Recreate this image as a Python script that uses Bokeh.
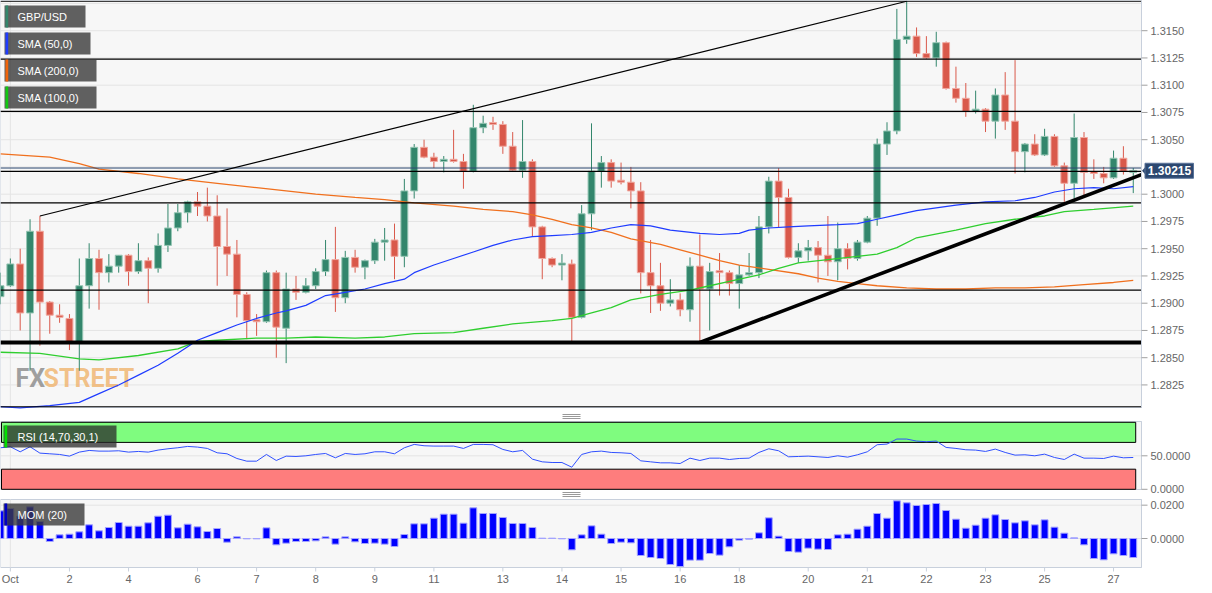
from bokeh.plotting import figure
from bokeh.models import Range1d, ColumnDataSource
from bokeh.layouts import column
from bokeh.embed import file_html
from bokeh.resources import INLINE
from bokeh.core.properties import value

# ---------------- data ----------------
open_ = [1.2906, 1.2916, 1.2936, 1.2891, 1.2966, 1.2901, 1.2889, 1.2886, 1.2864, 1.2916,
         1.2941, 1.2928, 1.2934, 1.2944, 1.2929, 1.2939, 1.2932, 1.2953, 1.2969, 1.2983,
         1.2993, 1.2989, 1.2980, 1.2952, 1.2945, 1.2908, 1.2884, 1.2883, 1.2928, 1.2877,
         1.2913, 1.2910, 1.2916, 1.2929, 1.2940, 1.2905, 1.2942, 1.2933, 1.2939, 1.2956,
         1.2958, 1.2943, 1.3003, 1.3043, 1.3034, 1.3030, 1.3032, 1.3030, 1.3021, 1.3061,
         1.3065, 1.3064, 1.3044, 1.3022, 1.3030, 1.2970, 1.2941, 1.2935, 1.2936, 1.2887,
         1.2982, 1.3021, 1.3029, 1.3012, 1.3011, 1.3003, 1.2928, 1.2916, 1.2900, 1.2903,
         1.2894, 1.2934, 1.2913, 1.2929, 1.2928, 1.2918, 1.2926, 1.2928, 1.2970, 1.3012,
         1.2997, 1.2942, 1.2948, 1.2951, 1.2944, 1.2938, 1.2950, 1.2941, 1.2956, 1.2978,
         1.3046, 1.3058, 1.3142, 1.3145, 1.3129, 1.3125, 1.3139, 1.3097, 1.3088, 1.3076,
         1.3078, 1.3067, 1.3091, 1.3067, 1.3039, 1.3046, 1.3036, 1.3053, 1.3026, 1.3010,
         1.3052, 1.3020, 1.3019, 1.3015, 1.3033, 1.3020]
high = [1.2928, 1.2941, 1.2950, 1.2977, 1.2980, 1.2902, 1.2899, 1.2890, 1.2941, 1.2955,
        1.2949, 1.2945, 1.2944, 1.2945, 1.2955, 1.2942, 1.2964, 1.2991, 1.2991, 1.2994,
        1.3002, 1.3006, 1.2999, 1.2987, 1.2958, 1.2910, 1.2890, 1.2930, 1.2930, 1.2928,
        1.2925, 1.2923, 1.2932, 1.2958, 1.2970, 1.2948, 1.2949, 1.2940, 1.2959, 1.2969,
        1.2973, 1.3014, 1.3046, 1.3050, 1.3038, 1.3035, 1.3059, 1.3037, 1.3082, 1.3072,
        1.3071, 1.3067, 1.3057, 1.3068, 1.3032, 1.2971, 1.2942, 1.2945, 1.2940, 1.2990,
        1.3065, 1.3035, 1.3032, 1.3029, 1.3025, 1.3011, 1.2958, 1.2937, 1.2922, 1.2909,
        1.2942, 1.2963, 1.2937, 1.2946, 1.2930, 1.2935, 1.2946, 1.2980, 1.3016, 1.3024,
        1.3005, 1.2955, 1.2958, 1.2957, 1.2980, 1.2974, 1.2955, 1.2958, 1.2980, 1.3051,
        1.3066, 1.3170, 1.3177, 1.3153, 1.3145, 1.3149, 1.3140, 1.3117, 1.3102, 1.3095,
        1.3079, 1.3097, 1.3112, 1.3123, 1.3047, 1.3055, 1.3060, 1.3055, 1.3029, 1.3074,
        1.3057, 1.3032, 1.3025, 1.3040, 1.3044, 1.3024]
low = [1.2899, 1.2915, 1.2875, 1.2838, 1.2861, 1.2872, 1.2882, 1.2857, 1.2838, 1.2895,
       1.2894, 1.2919, 1.2928, 1.2916, 1.2927, 1.2900, 1.2928, 1.2947, 1.2966, 1.2974,
       1.2980, 1.2975, 1.2916, 1.2925, 1.2887, 1.2867, 1.2870, 1.2882, 1.2850, 1.2845,
       1.2903, 1.2909, 1.2913, 1.2925, 1.2892, 1.2900, 1.2928, 1.2922, 1.2936, 1.2939,
       1.2922, 1.2933, 1.2996, 1.3033, 1.3024, 1.3020, 1.3029, 1.3005, 1.3020, 1.3056,
       1.3059, 1.3037, 1.3021, 1.3015, 1.2961, 1.2922, 1.2933, 1.2921, 1.2864, 1.2886,
       1.2967, 1.3006, 1.3006, 1.3009, 1.2987, 1.2909, 1.2891, 1.2893, 1.2897, 1.2888,
       1.2883, 1.2864, 1.2875, 1.2907, 1.2907, 1.2895, 1.2925, 1.2923, 1.2964, 1.2969,
       1.2941, 1.2937, 1.2939, 1.2919, 1.2925, 1.2921, 1.2931, 1.2939, 1.2955, 1.2971,
       1.3036, 1.3055, 1.3138, 1.3126, 1.3124, 1.3117, 1.3096, 1.3084, 1.3071, 1.3074,
       1.3057, 1.3051, 1.3059, 1.3019, 1.3020, 1.3035, 1.3035, 1.3025, 1.2993, 1.2996,
       1.2999, 1.3014, 1.3010, 1.3014, 1.3018, 1.3001]
close = [1.2916, 1.2936, 1.2891, 1.2966, 1.2901, 1.2889, 1.2887, 1.2864, 1.2916, 1.2941,
         1.2928, 1.2934, 1.2944, 1.2929, 1.2939, 1.2932, 1.2953, 1.2969, 1.2983, 1.2993,
         1.2989, 1.2980, 1.2952, 1.2945, 1.2908, 1.2884, 1.2883, 1.2928, 1.2878, 1.2913,
         1.2910, 1.2916, 1.2929, 1.2940, 1.2905, 1.2942, 1.2933, 1.2939, 1.2956, 1.2958,
         1.2943, 1.3003, 1.3043, 1.3034, 1.3030, 1.3032, 1.3030, 1.3021, 1.3061, 1.3065,
         1.3064, 1.3044, 1.3022, 1.3030, 1.2970, 1.2941, 1.2935, 1.2936, 1.2887, 1.2982,
         1.3021, 1.3029, 1.3012, 1.3011, 1.3003, 1.2928, 1.2916, 1.2900, 1.2903, 1.2894,
         1.2934, 1.2913, 1.2929, 1.2928, 1.2918, 1.2926, 1.2928, 1.2970, 1.3012, 1.2997,
         1.2942, 1.2948, 1.2951, 1.2944, 1.2938, 1.2950, 1.2941, 1.2956, 1.2978, 1.3046,
         1.3058, 1.3142, 1.3145, 1.3129, 1.3125, 1.3139, 1.3097, 1.3088, 1.3076, 1.3078,
         1.3067, 1.3091, 1.3067, 1.3039, 1.3046, 1.3036, 1.3053, 1.3026, 1.3010, 1.3052,
         1.3020, 1.3019, 1.3015, 1.3033, 1.3021, 1.30215]

sma50_i = [0, 2, 5, 8, 10, 12, 14, 16, 18, 20, 22, 24, 26, 28, 29, 31, 33, 35, 37, 39,
           41, 42, 44, 46, 48, 50, 52, 54, 56, 58, 60, 62, 64, 66, 68, 71, 73, 75, 76, 78,
           80, 82, 85, 87, 89, 91, 93, 97, 100, 103, 105, 107, 109, 111, 113, 115]
sma50_v = [1.2805, 1.2804, 1.2806, 1.2809, 1.2817, 1.2825, 1.2834, 1.2843, 1.2854, 1.2866,
           1.2873, 1.2880, 1.2886, 1.2891, 1.2893, 1.2898, 1.2907, 1.2910, 1.2913, 1.2918,
           1.2922, 1.2928, 1.2935, 1.2941, 1.2947, 1.2953, 1.2958, 1.2961, 1.2962, 1.2963,
           1.2965, 1.2969, 1.2972, 1.2971, 1.2967, 1.2964, 1.2963, 1.2964, 1.2967, 1.2969,
           1.2970, 1.2971, 1.2972, 1.2973, 1.2977, 1.2981, 1.2985, 1.2990, 1.2993, 1.2994,
           1.2997, 1.3002, 1.3005, 1.3006, 1.3005, 1.3007]
sma200_i = [0, 5, 8, 10, 14, 18, 22, 26, 29, 32, 36, 39, 42, 46, 49, 52, 54, 56, 58, 60,
            62, 64, 67, 69, 71, 73, 75, 78, 81, 83, 85, 87, 89, 92, 95, 98, 101, 104, 107,
            110, 113, 115]
sma200_v = [1.3037, 1.3034, 1.3028, 1.3023, 1.3019, 1.3014, 1.3010, 1.3006, 1.3003, 1.3000,
            1.2997, 1.2995, 1.2992, 1.2989, 1.2986, 1.2984, 1.2981, 1.2977, 1.2972, 1.2969,
            1.2965, 1.2959, 1.2954, 1.2949, 1.2944, 1.2939, 1.2935, 1.2931, 1.2927, 1.2923,
            1.2920, 1.2918, 1.2916, 1.2914, 1.2913, 1.2913, 1.2914, 1.2914, 1.2915, 1.2917,
            1.2919, 1.2921]
sma100_i = [0, 4, 8, 10, 14, 18, 20, 22, 26, 29, 32, 36, 39, 42, 46, 49, 52, 56, 58, 60,
            62, 64, 67, 70, 72, 74, 77, 79, 81, 84, 87, 89, 91, 93, 97, 100, 103, 106, 108,
            111, 115]
sma100_v = [1.2855, 1.2854, 1.2849, 1.2848, 1.2852, 1.2858, 1.2865, 1.2866, 1.2868, 1.2868,
            1.2869, 1.2868, 1.2869, 1.2872, 1.2873, 1.2877, 1.2881, 1.2884, 1.2886, 1.2891,
            1.2896, 1.2903, 1.2908, 1.2912, 1.2916, 1.2920, 1.2926, 1.2932, 1.2937, 1.2940,
            1.2943, 1.2945, 1.2951, 1.2960, 1.2967, 1.2973, 1.2977, 1.2980, 1.2984, 1.2986,
            1.2989]

rsi = [62, 63.5, 56, 63.5, 54, 53, 52, 49.5, 55.5, 58, 57, 57, 57.5, 55.5, 56.5, 55.5, 58.5,
       60.5, 62, 64, 63, 61, 54.5, 53, 46, 42, 42, 52, 43, 49.5, 49, 50, 52, 53.5, 47, 53.5,
       52, 53, 56, 56, 53, 62, 67, 65, 64.5, 64.5, 64.5, 61, 67, 67, 66.5, 59.5, 56, 58, 45,
       41, 40, 40, 33, 52, 56, 57, 55, 54.5, 53.5, 42.5, 41, 39.5, 39.5, 38.5, 46.5, 43, 46.5,
       46.5, 44.5, 46, 46.5, 55, 60.5, 57.5, 48.5, 49, 49.5, 48.5, 47.5, 50, 48, 51.5, 56,
       66.5, 67.5, 75, 75, 72, 71, 72, 62.5, 61, 59, 58.5, 56.5, 60, 55, 51, 51.5, 50, 52.5,
       47.5, 44.5, 52.5, 46.5, 46.5, 46, 49.5, 47, 47.5]
mom = [0.0166, 0.0180, 0.0135, 0.0190, 0.0102, -0.0018, 0.0022, 0.0026, 0.0040, 0.0082,
       0.0046, 0.0066, 0.0096, 0.0074, 0.0074, 0.0094, 0.0134, 0.0140, 0.0064, 0.0086,
       0.0070, 0.0042, 0.0060, -0.0022, 0.0010, -0.0002, -0.0002, 0.0064, -0.0038, -0.0028,
       -0.0018, -0.0018, -0.0014, 0.0010, -0.0034, 0.0010, -0.0020, -0.0030, -0.0028, -0.0034,
       -0.0048, 0.0024, 0.0088, 0.0088, 0.0122, 0.0146, 0.0146, 0.0092, 0.0184, 0.0150,
       0.0150, 0.0126, 0.0090, 0.0090, 0.0066, 0.0002, 0.0002, -0.0002, -0.0068, 0.0022,
       0.0076, 0.0026, -0.0030, -0.0022, -0.0026, -0.0102, -0.0114, -0.0120, -0.0156, -0.0168,
       -0.0130, -0.0130, -0.0090, -0.0100, -0.0050, -0.0010, -0.0004, 0.0034, 0.0124, 0.0014,
       -0.0078, -0.0082, -0.0058, -0.0064, -0.0066, 0.0022, 0.0026, 0.0056, 0.0074, 0.0150,
       0.0122, 0.0226, 0.0214, 0.0198, 0.0204, 0.0210, 0.0168, 0.0116, 0.0062, 0.0080,
       0.0122, 0.0142, 0.0114, 0.0094, 0.0106, 0.0082, 0.0112, 0.0068, 0.0032, 0.0004,
       -0.0038, -0.0120, -0.0128, -0.0092, -0.0102, -0.0114]

levels = [1.3177, 1.3124, 1.3076, 1.3021, 1.2992, 1.2912, 1.2805]
support_level = 1.2864
price_line = 1.3024
wedge_i = [4, 92]
wedge_v = [1.2980, 1.3177]
trend_i = [71, 115.84]
trend_v = [1.2864, 1.3018]

price_ticks = [1.2825, 1.2850, 1.2875, 1.2900, 1.2925, 1.2950, 1.2975, 1.3000,
               1.3050, 1.3075, 1.3100, 1.3125, 1.3150]
price_grid = [1.2825, 1.2850, 1.2875, 1.2900, 1.2925, 1.2950, 1.2975, 1.3000, 1.3025,
              1.3050, 1.3075, 1.3100, 1.3125, 1.3150, 1.3175]
rsi_ticks = [0, 50]
rsi_overbought, rsi_oversold, rsi_max, rsi_min = 70, 30, 100, 0
mom_ticks = [0, 0.02]

xtick_idx = [1, 7, 13, 20, 26, 32, 38, 44, 51, 57, 63, 69, 75, 82, 88, 94, 100, 106, 113]
xtick_lab = ["Oct", "2", "4", "6", "7", "8", "9", "11", "13", "14", "15", "16", "18",
             "20", "21", "22", "23", "25", "27"]

# ---------------- geometry / style ----------------
n = len(close)
idx = list(range(n))
W = 1212
S = 9.85           # px per candle
X0 = 0.0


def gx(px):
    return X0 + px / S


XF = gx(W)          # right end of canvas
XA = gx(1141)       # right edge of the panels (axis line)
FONT = "Liberation Sans"
BG = "#f7f7f7"
BORDER = "#c8d0dc"
GRID = "#e4e4e4"
LEG_BG = "#3a3a3a"
TICK_COL = "#a0a0a0"
LAB_COL = "#666666"

# main panel mapping: price <-> px (panel 0..407)
Y_TOP, Y_BOT = 1.31777, 1.28043
K = (Y_TOP - Y_BOT) / 407


def my(py):
    return Y_TOP - py * K


# RSI panel (global px 421..489)
R_TOP, R_BOT = 101.2, -0.3
KR = (R_TOP - R_BOT) / 68


def ry(gy):
    return R_TOP - (gy - 421) * KR


# MOM panel (global px 499..567)
M_TOP, M_BOT = 0.0234, -0.0174
KM = (M_TOP - M_BOT) / 68


def mmy(gy):
    return M_TOP - (gy - 499) * KM


def canvas(height, y0, y1):
    f = figure(width=W, height=height, x_range=Range1d(X0, XF), y_range=Range1d(y0, y1),
               title=None, output_backend="svg", toolbar_location=None,
               x_axis_location=None, y_axis_location=None,
               min_border_left=0, min_border_right=0, min_border_top=0, min_border_bottom=0,
               background_fill_color="white", border_fill_color="white",
               outline_line_color=None)
    f.grid.visible = False
    return f


def panel_bg(f, top, bottom):
    f.quad(left=[X0], right=[XA], top=[top], bottom=[bottom], fill_color=BG,
           line_color=BORDER, line_width=1)


def right_axis(f, ticks, top, bottom):
    f.segment(x0=[XA], y0=[top], x1=[XA], y1=[bottom], line_color=BORDER, line_width=1)
    f.segment(x0=[XA] * len(ticks), y0=ticks, x1=[gx(1147)] * len(ticks), y1=ticks,
              line_color=TICK_COL, line_width=1)
    f.text(x=[gx(1150)] * len(ticks), y=ticks, text=[f"{t:.4f}" for t in ticks],
           text_baseline="middle", text_align="left", text_font=value(FONT),
           text_font_size="11px", text_color=LAB_COL)


def legend_box(f, yfun, x_a, x_b, y_a, y_b, colr, txt, bg=LEG_BG, alpha=0.8):
    f.quad(left=[gx(x_a)], right=[gx(x_b)], top=[yfun(y_a)], bottom=[yfun(y_b)],
           fill_color=bg, fill_alpha=alpha, line_color=None)
    f.quad(left=[gx(x_a + 1)], right=[gx(x_a + 3.7)], top=[yfun(y_a)], bottom=[yfun(y_b)],
           fill_color=colr, line_color=None)
    f.text(x=[gx(17)], y=[yfun((y_a + y_b) / 2)], text=[txt], text_baseline="middle",
           text_font=value(FONT), text_font_size="11px", text_color="white")


def handle(f, yfun, gy):
    ys = [yfun(gy - 2), yfun(gy), yfun(gy + 2)]
    f.segment(x0=[gx(562)] * 3, y0=ys, x1=[gx(580)] * 3, y1=ys, line_color="#999999",
              line_width=1)


# ---------------- main panel ----------------
H1 = 419
p = canvas(H1, my(H1), my(0))
panel_bg(p, my(0), my(407))
p.segment(x0=[X0] * len(price_grid), y0=price_grid, x1=[XA] * len(price_grid),
          y1=price_grid, line_color=GRID, line_width=1)
p.segment(x0=[xtick_idx[0]], y0=[my(0)], x1=[xtick_idx[0]], y1=[my(407)],
          line_color=GRID, line_width=1)

# watermark
p.text(x=[gx(15)], y=[my(378)], text=["FX"], text_baseline="middle",
       text_font=value("Roboto"), text_font_style="bold", text_font_size="25px",
       text_color="#8f8f8f", text_alpha=0.85)
p.text(x=[gx(43)], y=[my(378)], text=["STREET"], text_baseline="middle",
       text_font=value("Roboto"), text_font_style="bold", text_font_size="25px",
       text_color="#f0b26a", text_alpha=0.8)

up = [c >= o for o, c in zip(open_, close)]
bot = [min(o, c) for o, c in zip(open_, close)]
top = [max(max(o, c), b + 0.00018) for o, c, b in zip(open_, close, bot)]
src = ColumnDataSource(dict(
    x=idx, h=high, l=low, top=top, bot=bot,
    col=["#33866c" if u else "#d9594b" for u in up],
    edge=["#96c6b4" if u else "#f0a89f" for u in up]))
p.segment(x0="x", y0="h", x1="x", y1="l", line_color="col", line_width=1, source=src)
p.vbar(x="x", width=0.7, top="top", bottom="bot", fill_color="col", line_color="edge",
       line_width=1, source=src)

p.line(sma200_i, sma200_v, line_color="#f0701e", line_width=1.3)
p.line(sma100_i, sma100_v, line_color="#2fce2f", line_width=1.3)
p.line(sma50_i, sma50_v, line_color="#1f3cff", line_width=1.2)

nl = len(levels)
p.segment(x0=[X0] * nl, y0=levels, x1=[XA] * nl, y1=levels, line_color="black",
          line_width=1.2)
p.segment(x0=[X0], y0=[support_level], x1=[XA], y1=[support_level], line_color="black",
          line_width=4)
p.segment(x0=[X0], y0=[price_line], x1=[XA], y1=[price_line], line_color="#2c4870",
          line_width=1)
p.line(wedge_i, wedge_v, line_color="black", line_width=1.2)
p.line(trend_i, trend_v, line_color="black", line_width=3.6)

right_axis(p, price_ticks, my(0), my(407))

# price tag
last = close[-1]
p.patch(x=[gx(1141.5), gx(1145), gx(1145)], y=[last, last + 4 * K, last - 4 * K],
        fill_color="#2c4870", line_color=None)
p.quad(left=[gx(1144.5)], right=[gx(1193)], top=[last + 7.5 * K], bottom=[last - 7.5 * K],
       fill_color="#2c4870", line_color="#5a7399", line_width=1)
p.text(x=[gx(1169)], y=[last], text=[f"{last:.5f}"], text_baseline="middle",
       text_align="center", text_font=value(FONT), text_font_style="bold",
       text_font_size="12px", text_color="white")

legend_items = [("GBP/USD", "#33866c", 5, 27, 85), ("SMA (50,0)", "#1f3cff", 32, 54, 90),
                ("SMA (200,0)", "#f0640a", 59, 81, 96), ("SMA (100,0)", "#12c812", 86, 108, 96)]
for txt, colr, y_a, y_b, x_b in legend_items:
    legend_box(p, my, 4, x_b, y_a, y_b, colr, txt)

handle(p, my, 416)

# ---------------- RSI panel (global 419..497) ----------------
r = canvas(78, ry(497), ry(419))
panel_bg(r, ry(421), ry(489))
r.segment(x0=[X0], y0=[50], x1=[XA], y1=[50], line_color=GRID, line_width=1)
r.segment(x0=[xtick_idx[0]], y0=[ry(421)], x1=[xtick_idx[0]], y1=[ry(489)],
          line_color=GRID, line_width=1)
band_r = idx[-1] + 0.25
r.quad(left=[X0 + 0.1], right=[band_r], bottom=[rsi_overbought], top=[rsi_max],
       fill_color="#7ffc7f", line_color="black", line_width=1)
r.quad(left=[X0 + 0.1], right=[band_r], bottom=[rsi_min], top=[rsi_oversold],
       fill_color="#fe7d7d", line_color="black", line_width=1)
r.line(idx, rsi, line_color="#3050ff", line_width=1)
right_axis(r, rsi_ticks, ry(421), ry(489))
legend_box(r, ry, 3, 116, 425, 447, "#00e000", "RSI (14,70,30,1)", bg="#2a2a2a", alpha=0.75)
handle(r, ry, 494)

# ---------------- MOM panel (global 497..593) ----------------
m = canvas(96, mmy(593), mmy(497))
panel_bg(m, mmy(499), mmy(567))
m.segment(x0=[X0, X0], y0=[0.0, 0.02], x1=[XA, XA], y1=[0.0, 0.02], line_color=GRID,
          line_width=1)
m.segment(x0=[xtick_idx[0]], y0=[mmy(499)], x1=[xtick_idx[0]], y1=[mmy(567)],
          line_color=GRID, line_width=1)
m.vbar(x=idx, width=0.7, top=mom, bottom=0, fill_color="#0000ff", line_color="#a4a4ff",
       line_width=1)
right_axis(m, mom_ticks, mmy(499), mmy(567))
nt = len(xtick_idx)
m.segment(x0=xtick_idx, y0=[mmy(567)] * nt, x1=xtick_idx, y1=[mmy(571)] * nt,
          line_color=BORDER, line_width=1)
m.text(x=xtick_idx, y=[mmy(578)] * nt, text=xtick_lab, text_baseline="middle",
       text_align="center", text_font=value(FONT), text_font_size="11px",
       text_color=LAB_COL)
legend_box(m, mmy, 3, 84, 503, 525, "#0000c0", "MOM (20)")

layout = column(p, r, m, spacing=0)
open("out.html", "w").write(file_html(layout, INLINE))
